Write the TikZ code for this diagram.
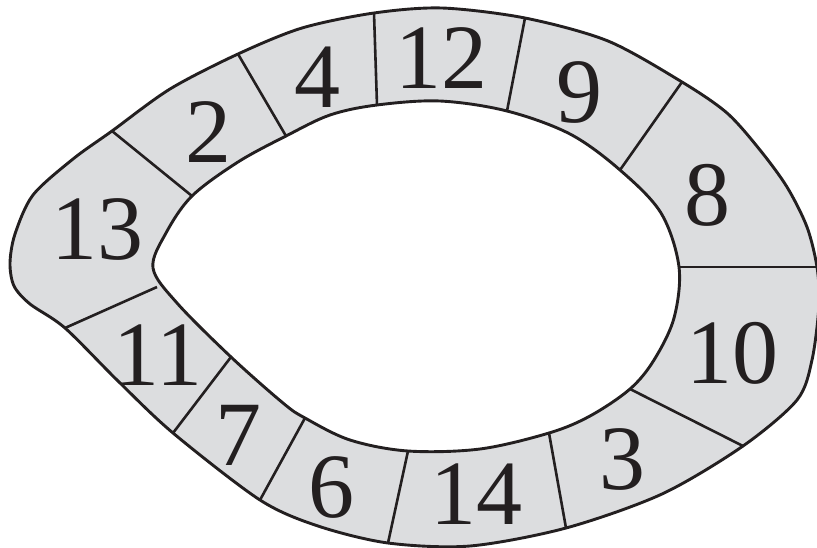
\documentclass[tikz,border=0pt]{standalone}
\usepackage{fontspec}
\setmainfont{Liberation Serif}
\usepackage{tikz}
\definecolor{ringgray}{HTML}{DCDDDF}
\definecolor{ink}{HTML}{231F20}

\begin{document}
\begin{tikzpicture}[x=1pt,y=-1pt, ring/.style={draw=ink,fill=ringgray,even odd rule,line width=2.9pt,line join=round}, cut/.style={draw=ink,line width=2.6pt}, num/.style={inner sep=0pt,font=\fontsize{92}{92}\selectfont,text=ink}]
\useasboundingbox (0,0) rectangle (817,547);
% divider end points, outer then inner
\coordinate (o1) at (112,131); \coordinate (i1) at (192,196);
\coordinate (o2) at (238,54);  \coordinate (i2) at (286,136);
\coordinate (o3) at (374,13);  \coordinate (i3) at (377,105);
\coordinate (o4) at (525,18);  \coordinate (i4) at (507,111);
\coordinate (o5) at (682,82);  \coordinate (i5) at (620,170);
\coordinate (o6) at (817,267); \coordinate (i6) at (679,267);
\coordinate (o7) at (743,446); \coordinate (i7) at (630,389);
\coordinate (o8) at (566,528); \coordinate (i8) at (549,433);
\coordinate (o9) at (388,543); \coordinate (i9) at (408,451);
\coordinate (o10) at (260,500); \coordinate (i10) at (305,418);
\coordinate (o11) at (173,433); \coordinate (i11) at (231,357);
\coordinate (o12) at (65,328);  \coordinate (i12) at (157,287);
% the band
\path[ring] plot[smooth cycle,tension=0.5] coordinates {(10,263) (15,234) (33,195) (73,159) (o1) (170,89) (o2) (302,28) (o3) (442,8) (o4) (608,41) (o5) (727,113) (760,150) (787,187) (807,227) (o6) (819,305) (812,360) (797,400) (o7) (662,494) (o8) (470,546) (o9) (318,526) (o10) (o11) (118,381) (o12) (30,304) (14,286)}
  plot[smooth cycle,tension=0.55] coordinates {(153,268) (166,233) (i1) (238,162) (i2) (330,115) (i3) (440,101) (i4) (570,134) (i5) (661,213) (i6) (674,318) (654,360) (i7) (590,416) (i8) (480,449) (i9) (350,440) (i10) (283,403) (i11) (177,303)};
\foreach \k in {1,...,12} \draw[cut] (o\k) -- (i\k);
% labels
\node[num] (n13) at (97,229) {13};
\node[num] (n2) at (208,132) {2};
\node[num] (n4) at (317,77) {4};
\node[num] (n12) at (441,58) {12};
\node[num] (n9) at (579,92) {9};
\node[num] (n8) at (707,195) {8};
\node[num] (n10) at (732,353) {10};
\node[num] (n3) at (622,459) {3};
\node[num] (n14) at (476,494) {14};
\node[num] (n6) at (331,487) {6};
\node[num] (n7) at (238,435) {7};
\node[num] (n11) at (158,355) {11};
\end{tikzpicture}
\end{document}
